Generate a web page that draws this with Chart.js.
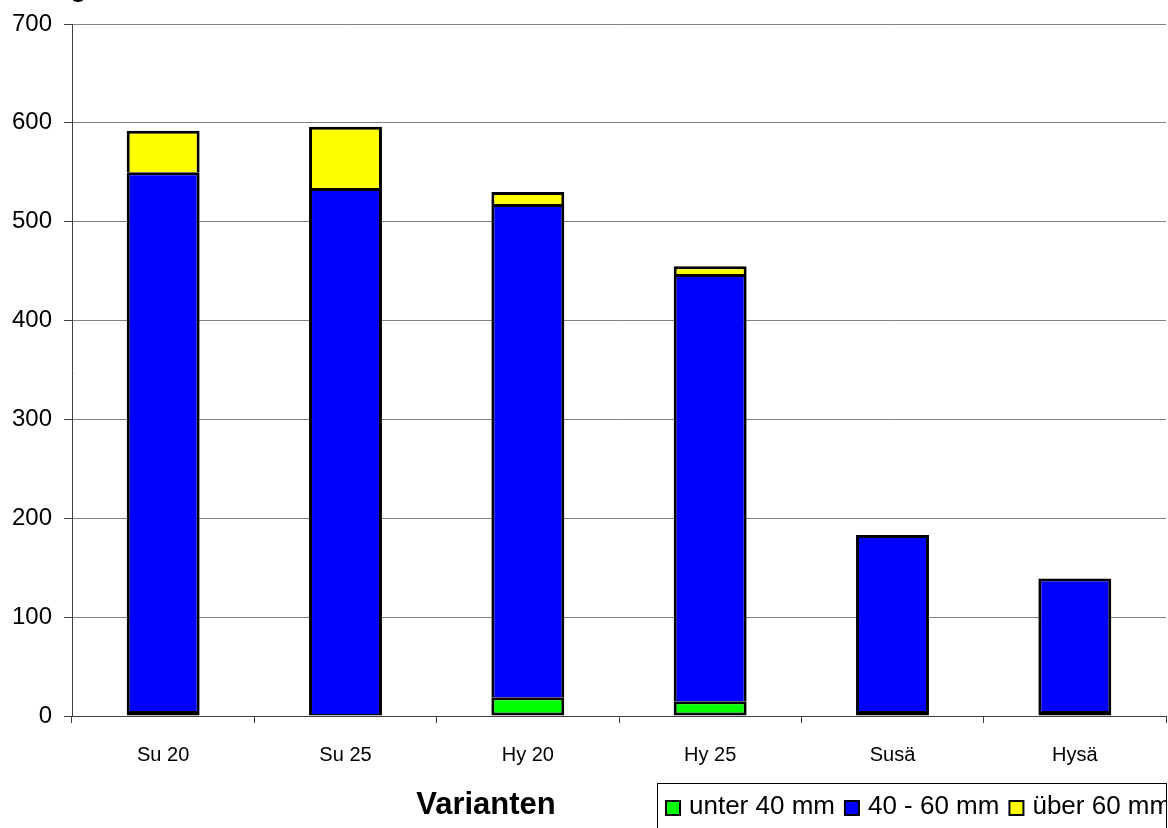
<!DOCTYPE html>
<html><head><meta charset="utf-8">
<script src="https://cdn.jsdelivr.net/npm/chart.js@4/dist/chart.umd.min.js"></script>
<style>html,body{margin:0;padding:0;background:#fff;}canvas{display:block;}</style>
</head><body>
<canvas id="c" width="1168" height="828"></canvas>
<script>
const categories = ['Su 20', 'Su 25', 'Hy 20', 'Hy 25', 'Susä', 'Hysä'];
const unter40 = [5, 2, 19, 15, 5, 5];
const mm40bis60 = [545, 532, 499, 432, 178, 134];
const ueber60 = [42, 62, 12, 8, 0, 0];
const seriesNames = ['unter 40 mm', '40 - 60 mm', 'über 60 mm'];
const yTicks = [0, 100, 200, 300, 400, 500, 600, 700];
const FONT = 'Arial, "Liberation Sans", sans-serif';

const overlay = {
  id: 'overlay',
  afterDraw(chart) {
    const ctx = chart.ctx;
    ctx.save();
    // cut-off title fragment
    ctx.fillStyle = '#000';
    ctx.font = 'bold 28px ' + FONT;
    ctx.textBaseline = 'alphabetic';
    ctx.textAlign = 'left';
    ctx.fillText('g', 70, -4);
    // x axis title
    ctx.font = 'bold 31px ' + FONT;
    ctx.textAlign = 'center';
    ctx.textBaseline = 'middle';
    ctx.fillText('Varianten', 486, 805);
    // legend
    ctx.strokeStyle = '#000';
    ctx.lineWidth = 1;
    ctx.strokeRect(657.5, 783.5, 509, 100);
    ctx.beginPath();
    ctx.rect(658, 784, 508, 60);
    ctx.clip();
    ctx.font = '26px ' + FONT;
    ctx.textAlign = 'left';
    let x = 666;
    chart.data.datasets.forEach(ds => {
      ctx.fillStyle = ds.backgroundColor;
      ctx.fillRect(x, 801, 14, 14);
      ctx.lineWidth = 2;
      ctx.strokeStyle = '#000';
      ctx.strokeRect(x, 801, 14, 14);
      ctx.fillStyle = '#000';
      ctx.fillText(ds.label, x + 23, 807);
      x += 23 + ctx.measureText(ds.label).width + 10;
    });
    ctx.restore();
  }
};

new Chart(document.getElementById('c'), {
  type: 'bar',
  data: {
    labels: categories,
    datasets: [
      { label: seriesNames[0], data: unter40, backgroundColor: '#00ff00', borderColor: '#000', borderWidth: 3, borderSkipped: false, inflateAmount: 0 },
      { label: seriesNames[1], data: mm40bis60, backgroundColor: '#0000ff', borderColor: '#000', borderWidth: 3, borderSkipped: 'start', inflateAmount: 0 },
      { label: seriesNames[2], data: ueber60, backgroundColor: '#ffff00', borderColor: '#000', borderWidth: 3, borderSkipped: 'start', inflateAmount: 0 }
    ]
  },
  options: {
    responsive: false,
    animation: false,
    devicePixelRatio: 1,
    layout: { padding: { top: 24, right: 2, left: 0, bottom: 0 } },
    categoryPercentage: 1,
    barPercentage: 0.4,
    plugins: { legend: { display: false }, tooltip: { enabled: false } },
    scales: {
      x: {
        stacked: true,
        offset: true,
        grid: { offset: true, drawOnChartArea: false, drawTicks: true, tickLength: 7, tickColor: '#404040' },
        border: { color: '#404040', width: 1 },
        ticks: { color: '#000', font: { family: FONT, size: 20 }, padding: 20, maxRotation: 0 },
        afterFit(s) { s.height = 112; s.paddingLeft = 0; s.paddingRight = 0; }
      },
      y: {
        stacked: true,
        min: 0, max: 700,
        afterBuildTicks(s) { s.ticks = yTicks.map(v => ({ value: v })); },
        grid: { color: '#808080', lineWidth: 1, tickLength: 8, tickColor: '#404040' },
        border: { color: '#404040', width: 1 },
        ticks: { color: '#000', font: { family: FONT, size: 24 }, padding: 12 },
        afterFit(s) { s.width = 72; s.paddingTop = 0; s.paddingBottom = 0; }
      }
    }
  },
  plugins: [overlay]
});
</script>
</body></html>
